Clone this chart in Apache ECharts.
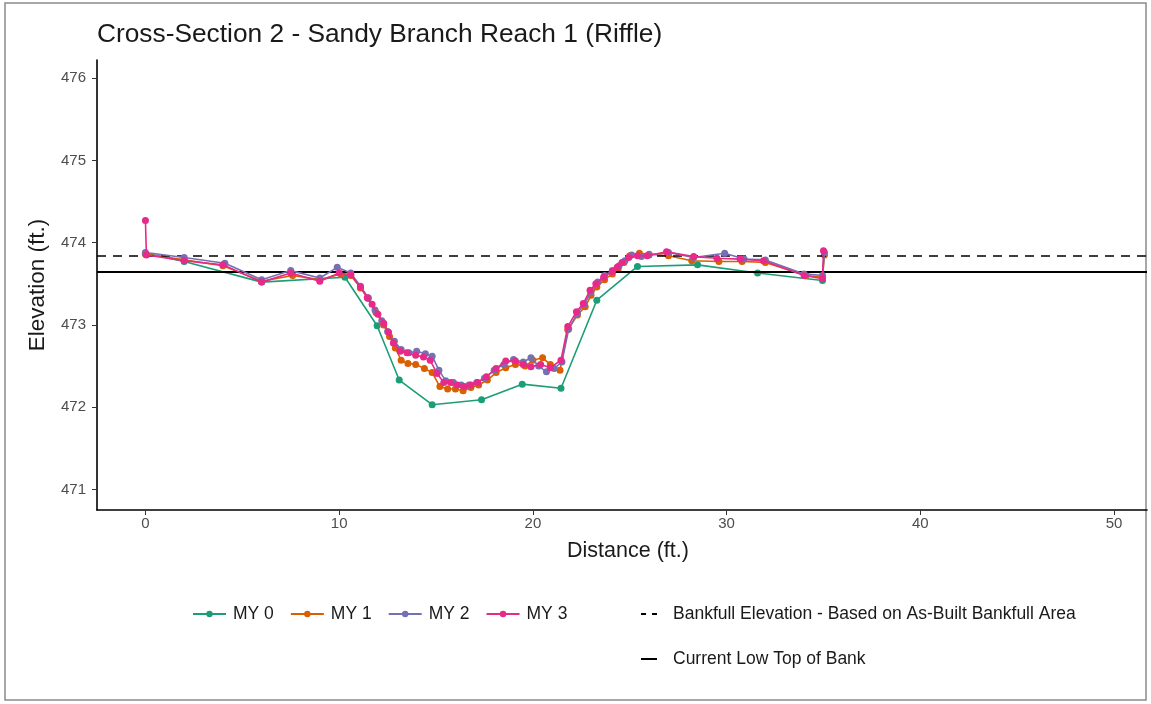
<!DOCTYPE html>
<html><head><meta charset="utf-8">
<script src="https://cdn.jsdelivr.net/npm/echarts@6/dist/echarts.min.js"></script>
<style>html,body{margin:0;padding:0;background:#fff}#c{width:1151px;height:704px}</style>
</head><body><div id="c"></div>
<script>
const xTicks = [0, 10, 20, 30, 40, 50];
const yTicks = [471, 472, 473, 474, 475, 476];
const seriesNames = ['MY 0', 'MY 1', 'MY 2', 'MY 3'];
const bankfullName = 'Bankfull Elevation - Based on As-Built Bankfull Area';
const lowBankName = 'Current Low Top of Bank';
const bankfullElev = 473.84;
const lowBankElev = 473.65;

const my0X = [0, 2.0, 6.0, 10.3, 11.96, 13.1, 14.8, 17.35, 19.45, 21.45, 23.3, 25.4, 28.5, 31.6, 34.95];
const my0Y = [473.87, 473.77, 473.52, 473.58, 472.99, 472.33, 472.03, 472.09, 472.28, 472.23, 473.3, 473.71, 473.73, 473.63, 473.54];

const my1X = [0, 2.0, 4.0, 6.0, 7.6, 9.0, 10.1, 10.6, 11.1, 11.5, 11.9, 12.3, 12.6, 12.9, 13.2, 13.55, 13.95, 14.4, 14.8, 15.2, 15.6, 16.0, 16.4, 16.8, 17.2, 17.65, 18.1, 18.6, 19.1, 19.6, 20.0, 20.5, 20.9, 21.4, 21.8, 22.3, 22.7, 23.0, 23.3, 23.7, 24.1, 24.4, 24.7, 25.0, 25.5, 26.0, 27.0, 28.2, 29.6, 30.8, 32.0, 34.1, 34.95, 35.05];
const my1Y = [473.86, 473.79, 473.72, 473.53, 473.6, 473.55, 473.62, 473.6, 473.45, 473.32, 473.15, 473.0, 472.86, 472.72, 472.57, 472.53, 472.52, 472.47, 472.42, 472.25, 472.22, 472.22, 472.2, 472.24, 472.27, 472.33, 472.42, 472.48, 472.52, 472.5, 472.57, 472.6, 472.52, 472.45, 472.94, 473.12, 473.22, 473.36, 473.46, 473.55, 473.62, 473.68, 473.76, 473.84, 473.87, 473.86, 473.84, 473.78, 473.77, 473.77, 473.76, 473.6, 473.58, 473.85];

const my2X = [0, 2.0, 4.1, 6.0, 7.5, 9.0, 9.9, 10.6, 11.1, 11.5, 11.85, 12.2, 12.5, 12.85, 13.2, 13.6, 14.0, 14.45, 14.8, 15.15, 15.5, 15.9, 16.3, 16.7, 17.1, 17.5, 18.0, 18.5, 19.0, 19.5, 19.9, 20.3, 20.7, 21.1, 21.5, 21.85, 22.3, 22.65, 23.0, 23.35, 23.7, 24.1, 24.45, 24.75, 25.1, 25.6, 26.0, 27.0, 28.3, 29.9, 30.9, 32.0, 34.0, 34.95, 35.05];
const my2Y = [473.88, 473.82, 473.75, 473.55, 473.66, 473.57, 473.7, 473.63, 473.47, 473.33, 473.18, 473.05, 472.92, 472.8, 472.7, 472.66, 472.68, 472.65, 472.62, 472.45, 472.32, 472.3, 472.27, 472.27, 472.3, 472.35, 472.45, 472.52, 472.58, 472.55, 472.6, 472.5, 472.43, 472.47, 472.55, 472.95, 473.14, 473.25, 473.4, 473.52, 473.6, 473.66, 473.72, 473.78, 473.85, 473.83, 473.85, 473.88, 473.82, 473.87, 473.8, 473.79, 473.62, 473.6, 473.88];

const my3X = [0, 0.05, 2.0, 4.0, 6.0, 7.5, 9.0, 10.0, 10.6, 11.1, 11.45, 11.7, 12.0, 12.3, 12.55, 12.8, 13.15, 13.5, 13.95, 14.35, 14.7, 15.05, 15.4, 15.75, 16.1, 16.45, 16.8, 17.15, 17.6, 18.1, 18.6, 19.1, 19.5, 19.9, 20.4, 20.9, 21.45, 21.8, 22.25, 22.6, 22.95, 23.25, 23.65, 24.1, 24.35, 24.6, 24.95, 25.4, 25.9, 26.9, 28.3, 29.5, 30.7, 31.9, 34.0, 34.95, 35.0];
const my3Y = [474.27, 473.85, 473.78, 473.73, 473.52, 473.63, 473.53, 473.63, 473.61, 473.46, 473.33, 473.25, 473.13, 473.02, 472.91, 472.78, 472.68, 472.66, 472.63, 472.61, 472.57, 472.41, 472.3, 472.3, 472.27, 472.25, 472.27, 472.3, 472.37, 472.47, 472.56, 472.56, 472.52, 472.49, 472.52, 472.48, 472.57, 472.98, 473.16, 473.26, 473.42, 473.5, 473.58, 473.65, 473.7, 473.76, 473.82, 473.84, 473.84, 473.89, 473.83, 473.81, 473.8, 473.78, 473.6, 473.56, 473.9];

const colors = ['#1B9E77', '#D95F02', '#7570B3', '#E7298A'];
const xs = [my0X, my1X, my2X, my3X];
const ys = [my0Y, my1Y, my2Y, my3Y];
const FONT = '"Liberation Sans", Arial, Helvetica, sans-serif';

const chart = echarts.init(document.getElementById('c'), null, {renderer: 'canvas'});

const lineSeries = seriesNames.map((n, i) => ({
  name: n,
  type: 'line',
  data: xs[i].map((x, j) => [x, ys[i][j]]),
  symbol: 'circle',
  symbolSize: 7,
  itemStyle: {color: colors[i]},
  lineStyle: {color: colors[i], width: 1.6},
  z: 3 + i,
  silent: true
}));

const refSeries = [
  {
    name: bankfullName, type: 'line', data: [], symbol: 'none',
    itemStyle: {color: '#000'},
    lineStyle: {color: '#000', width: 1.8, type: [5, 6]},
    markLine: {silent: true, symbol: 'none', label: {show: false},
      lineStyle: {color: '#000', width: 1.6, type: [9, 7]},
      data: [{yAxis: bankfullElev}]}
  },
  {
    name: lowBankName, type: 'line', data: [], symbol: 'none',
    itemStyle: {color: '#000'},
    lineStyle: {color: '#000', width: 1.8, type: 'solid'},
    markLine: {silent: true, symbol: 'none', label: {show: false},
      lineStyle: {color: '#000', width: 1.8, type: 'solid'},
      data: [{yAxis: lowBankElev}]}
  }
];

const legendText = {fontSize: 17.5, color: '#1a1a1a', fontFamily: FONT};

const option = {
  animation: false,
  backgroundColor: '#fff',
  textStyle: {fontFamily: FONT},
  title: {
    text: 'Cross-Section 2 - Sandy Branch Reach 1 (Riffle)',
    left: 92, top: 17,
    textStyle: {fontSize: 26.3, fontWeight: 'normal', color: '#1a1a1a', fontFamily: FONT}
  },
  graphic: [{
    type: 'rect', silent: true, z: -1,
    shape: {x: 5, y: 3, width: 1141, height: 697},
    style: {fill: 'none', stroke: '#8a8a8a', lineWidth: 1.5}
  }],
  grid: {left: 97, right: 4, top: 60, bottom: 194, containLabel: false},
  xAxis: {
    type: 'value', min: -2.5, max: 51.7,
    name: 'Distance (ft.)', nameLocation: 'middle', nameGap: 30,
    nameTextStyle: {fontSize: 21.5, color: '#1a1a1a', fontFamily: FONT, padding: [0, 0, 0, 12]},
    axisLine: {show: true, onZero: false, lineStyle: {color: '#000', width: 1.6}},
    axisTick: {show: true, length: 5, customValues: xTicks, lineStyle: {color: '#333', width: 1}},
    axisLabel: {customValues: xTicks, fontSize: 15, color: '#4d4d4d', margin: 6, fontFamily: FONT},
    splitLine: {show: false}
  },
  yAxis: {
    type: 'value', min: 470.75, max: 476.22,
    name: 'Elevation (ft.)', nameLocation: 'middle', nameGap: 48,
    nameTextStyle: {fontSize: 22.5, color: '#1a1a1a', fontFamily: FONT},
    axisLine: {show: true, onZero: false, lineStyle: {color: '#000', width: 1.6}},
    axisTick: {show: true, length: 5, customValues: yTicks, lineStyle: {color: '#333', width: 1}},
    axisLabel: {customValues: yTicks, fontSize: 15, color: '#4d4d4d', margin: 11, fontFamily: FONT},
    splitLine: {show: false}
  },
  legend: [
    {
      data: seriesNames, left: 187, top: 600, itemWidth: 33, itemHeight: 8, itemGap: 16,
      textStyle: Object.assign({padding: [0, 0, 0, 2]}, legendText), selectedMode: false
    },
    {
      data: [
        {name: bankfullName, itemStyle: {opacity: 0}},
        {name: lowBankName, itemStyle: {opacity: 0}}
      ],
      orient: 'vertical', left: 635, top: 600,
      itemWidth: 16, itemHeight: 8, itemGap: 27,
      textStyle: Object.assign({padding: [0, 0, 0, 11]}, legendText), selectedMode: false
    }
  ],
  series: [...lineSeries, ...refSeries]
};
chart.setOption(option);
</script>
</body></html>
